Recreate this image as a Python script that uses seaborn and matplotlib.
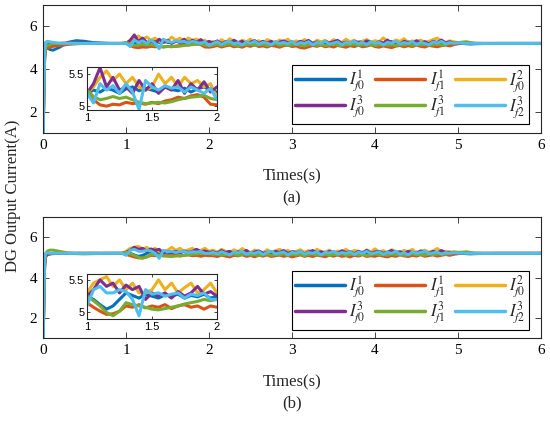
import numpy as np
import pandas as pd
import seaborn as sns
import matplotlib.pyplot as plt
from matplotlib.lines import Line2D

# time grid: start-up, disturbance window, settling
t_start = [0.0, 0.01, 0.02, 0.03, 0.05, 0.08, 0.12, 0.2, 0.3, 0.4, 0.5, 0.6, 0.8, 0.95]
t_mid = list(np.round(np.linspace(1.0, 5.0, 81), 2))
t_end = [5.05, 5.1, 5.15, 5.2, 5.3, 5.5, 6.0]
t = t_start + t_mid + t_end

labels = [r'$I_{f0}^{1}$', r'$I_{f1}^{1}$', r'$I_{f0}^{2}$',
          r'$I_{f0}^{3}$', r'$I_{f1}^{3}$', r'$I_{f2}^{3}$']
colors = ['#0072BD', '#D95319', '#EDB120', '#7E2F8E', '#77AC30', '#4DBEEE']

# ---------------- (a) ----------------
a_f0_1 = ([0.0, 2.8, 4.5, 4.95, 5.0, 4.92, 4.88, 5.02, 5.25, 5.33, 5.3, 5.24, 5.2, 5.2]
          + [5.2, 5.25, 5.22, 5.28, 5.25, 5.2, 5.27, 5.3, 5.24, 5.28, 5.25, 5.22, 5.3, 5.26, 5.24, 5.28, 5.22, 5.27, 5.3, 5.25, 5.22]
          + [5.25, 5.2, 5.28, 5.22, 5.3, 5.24, 5.18, 5.26, 5.22, 5.29,
             5.2, 5.25, 5.3, 5.23, 5.19, 5.27, 5.24, 5.21, 5.28, 5.25,
             5.2, 5.26, 5.3, 5.22, 5.18, 5.25, 5.28, 5.21, 5.24, 5.29,
             5.22, 5.2, 5.27, 5.25, 5.19, 5.26, 5.3, 5.23, 5.2, 5.27,
             5.24, 5.18, 5.26, 5.29, 5.22, 5.25, 5.2, 5.28, 5.23, 5.26,
             5.21, 5.27, 5.24, 5.2, 5.26, 5.22, 5.25, 5.23, 5.21, 5.22]
          + [5.2, 5.18, 5.17, 5.18, 5.19, 5.2, 5.2])
a_f1_1 = ([0.0, 2.8, 4.5, 4.9, 4.98, 5.02, 5.06, 5.1, 5.15, 5.18, 5.2, 5.2, 5.2, 5.2]
          + [5.22, 5.1, 5.02, 5.0, 5.03, 5.02, 5.06, 5.04, 5.05, 5.03, 5.06, 5.04, 5.08, 5.1, 5.14, 5.12, 5.16, 5.18, 5.14, 5.03, 5.02]
          + [5.05, 5.1, 5.03, 5.08, 5.12, 5.04, 5.07, 5.02, 5.1, 5.06,
             5.13, 5.05, 5.08, 5.03, 5.1, 5.07, 5.02, 5.09, 5.12, 5.05,
             5.08, 5.0, 4.98, 5.04, 5.1, 5.06, 5.12, 5.04, 5.08, 5.03,
             5.1, 5.06, 5.02, 5.09, 5.05, 5.11, 5.04, 5.07, 5.13, 5.05,
             5.02, 5.08, 5.04, 5.0, 5.07, 5.1, 5.04, 5.09, 5.05, 5.12,
             5.06, 5.03, 5.1, 5.07, 5.04, 5.09, 5.12, 5.08, 5.14, 5.18]
          + [5.2, 5.22, 5.21, 5.2, 5.2, 5.2, 5.2])
a_f0_2 = ([0.0, 2.8, 4.6, 5.05, 5.15, 5.18, 5.2, 5.2, 5.21, 5.2, 5.2, 5.2, 5.2, 5.2]
          + [5.2, 5.3, 5.45, 5.55, 5.4, 5.5, 5.35, 5.45, 5.3, 5.25, 5.3, 5.5, 5.35, 5.45, 5.3, 5.45, 5.35, 5.4, 5.3, 5.35, 5.12]
          + [5.3, 5.2, 5.38, 5.25, 5.42, 5.3, 5.22, 5.35, 5.28, 5.4,
             5.25, 5.33, 5.2, 5.38, 5.3, 5.24, 5.36, 5.28, 5.4, 5.22,
             5.32, 5.26, 5.38, 5.3, 5.2, 5.35, 5.28, 5.34, 5.22, 5.38,
             5.3, 5.25, 5.4, 5.28, 5.35, 5.22, 5.3, 5.38, 5.26, 5.33,
             5.28, 5.46, 5.3, 5.22, 5.36, 5.3, 5.42, 5.25, 5.32, 5.28,
             5.36, 5.24, 5.3, 5.38, 5.45, 5.3, 5.25, 5.32, 5.28, 5.24]
          + [5.22, 5.2, 5.21, 5.2, 5.2, 5.2, 5.2])
a_f0_3 = ([0.0, 2.8, 4.6, 5.0, 5.12, 5.16, 5.18, 5.2, 5.22, 5.22, 5.21, 5.2, 5.2, 5.2]
          + [5.2, 5.35, 5.6, 5.3, 5.45, 5.25, 5.3, 5.2, 5.4, 5.25, 5.35, 5.2, 5.3, 5.25, 5.4, 5.2, 5.35, 5.25, 5.38, 5.22, 5.3]
          + [5.22, 5.32, 5.18, 5.28, 5.2, 5.35, 5.24, 5.3, 5.17, 5.26,
             5.33, 5.2, 5.28, 5.22, 5.3, 5.16, 5.26, 5.32, 5.22, 5.28,
             5.18, 5.3, 5.24, 5.34, 5.2, 5.27, 5.16, 5.3, 5.22, 5.28,
             5.34, 5.2, 5.26, 5.18, 5.3, 5.24, 5.2, 5.32, 5.25, 5.18,
             5.28, 5.22, 5.36, 5.2, 5.27, 5.17, 5.3, 5.24, 5.2, 5.33,
             5.22, 5.28, 5.18, 5.3, 5.24, 5.36, 5.22, 5.28, 5.2, 5.22]
          + [5.2, 5.21, 5.2, 5.2, 5.2, 5.2, 5.2])
a_f1_3 = ([0.0, 2.8, 4.6, 5.02, 5.1, 5.14, 5.18, 5.2, 5.21, 5.21, 5.2, 5.2, 5.2, 5.2]
          + [5.25, 5.15, 5.1, 5.12, 5.15, 5.12, 5.14, 5.1, 5.06, 5.04, 5.05, 5.06, 5.05, 5.07, 5.1, 5.12, 5.14, 5.15, 5.17, 5.12, 5.1]
          + [5.12, 5.16, 5.1, 5.14, 5.18, 5.12, 5.08, 5.15, 5.12, 5.17,
             5.1, 5.13, 5.16, 5.09, 5.14, 5.18, 5.11, 5.15, 5.1, 5.13,
             5.17, 5.12, 5.08, 5.14, 5.16, 5.11, 5.15, 5.1, 5.13, 5.18,
             5.12, 5.09, 5.15, 5.13, 5.17, 5.1, 5.14, 5.12, 5.16, 5.1,
             5.13, 5.17, 5.11, 5.15, 5.09, 5.14, 5.12, 5.18, 5.1, 5.15,
             5.13, 5.16, 5.11, 5.14, 5.18, 5.12, 5.15, 5.2, 5.22, 5.24]
          + [5.26, 5.28, 5.24, 5.21, 5.2, 5.2, 5.2])
a_f2_3 = ([0.0, 3.0, 4.9, 5.25, 5.3, 5.28, 5.25, 5.21, 5.2, 5.2, 5.2, 5.2, 5.2, 5.2]
          + [5.2, 5.05, 5.35, 5.25, 5.32, 5.2, 5.35, 5.22, 4.95, 5.4, 5.3, 5.25, 5.32, 5.28, 5.3, 5.22, 5.3, 5.25, 5.2, 5.28, 5.1]
          + [5.2, 5.28, 5.15, 5.25, 5.3, 5.18, 5.24, 5.12, 5.27, 5.2,
             5.3, 5.16, 5.25, 5.22, 5.14, 5.28, 5.2, 5.25, 5.18, 5.3,
             5.15, 5.24, 5.2, 5.28, 5.13, 5.25, 5.2, 5.3, 5.17, 5.22,
             5.27, 5.14, 5.25, 5.2, 5.3, 5.18, 5.24, 5.15, 5.28, 5.2,
             5.25, 5.12, 5.26, 5.2, 5.3, 5.17, 5.24, 5.2, 5.28, 5.15,
             5.25, 5.2, 5.14, 5.27, 5.22, 5.3, 5.18, 5.24, 5.2, 5.22]
          + [5.21, 5.2, 5.2, 5.2, 5.2, 5.2, 5.2])

# ---------------- (b) ----------------
b_f0_1 = ([0.0, 2.8, 4.6, 5.05, 5.15, 5.18, 5.2, 5.2, 5.2, 5.2, 5.2, 5.2, 5.2, 5.2]
          + [5.25, 5.2, 5.12, 5.05, 5.1, 5.2, 5.3, 5.26, 5.22, 5.28, 5.25, 5.22, 5.27, 5.25, 5.28, 5.22, 5.26, 5.24, 5.28, 5.22, 5.25]
          + [5.22, 5.27, 5.2, 5.25, 5.3, 5.21, 5.26, 5.19, 5.28, 5.23,
             5.2, 5.27, 5.24, 5.29, 5.21, 5.25, 5.18, 5.27, 5.22, 5.26,
             5.3, 5.21, 5.25, 5.2, 5.28, 5.23, 5.19, 5.26, 5.29, 5.22,
             5.25, 5.2, 5.27, 5.23, 5.3, 5.21, 5.26, 5.19, 5.25, 5.28,
             5.22, 5.26, 5.2, 5.24, 5.29, 5.21, 5.27, 5.23, 5.19, 5.26,
             5.24, 5.28, 5.21, 5.25, 5.22, 5.27, 5.23, 5.24, 5.21, 5.22]
          + [5.2, 5.18, 5.17, 5.18, 5.19, 5.2, 5.2])
b_f1_1 = ([0.0, 2.8, 4.6, 5.0, 5.12, 5.16, 5.18, 5.2, 5.2, 5.2, 5.2, 5.2, 5.2, 5.2]
          + [5.15, 5.08, 5.02, 4.97, 4.98, 5.02, 5.1, 5.08, 5.12, 5.07, 5.1, 5.08, 5.12, 5.06, 5.1, 5.12, 5.08, 5.1, 5.05, 5.1, 5.08]
          + [5.08, 5.04, 5.11, 5.06, 5.02, 5.1, 5.07, 5.13, 5.05, 5.09,
             5.03, 5.1, 5.06, 5.12, 5.04, 5.08, 5.11, 5.05, 5.09, 5.02,
             5.07, 5.12, 5.05, 5.09, 5.04, 5.11, 5.07, 5.03, 5.1, 5.06,
             5.12, 5.05, 5.08, 5.02, 5.1, 5.06, 5.13, 5.04, 5.08, 5.05,
             5.11, 5.06, 5.02, 5.09, 5.05, 5.12, 5.07, 5.04, 5.1, 5.06,
             5.13, 5.05, 5.09, 5.12, 5.06, 5.1, 5.14, 5.1, 5.15, 5.18]
          + [5.2, 5.22, 5.21, 5.2, 5.2, 5.2, 5.2])
b_f0_2 = ([0.0, 2.8, 4.6, 5.05, 5.16, 5.2, 5.2, 5.2, 5.2, 5.2, 5.2, 5.2, 5.2, 5.2]
          + [5.3, 5.45, 5.5, 5.55, 5.4, 5.5, 5.35, 5.45, 5.3, 5.3, 5.35, 5.5, 5.35, 5.45, 5.3, 5.38, 5.45, 5.3, 5.35, 5.45, 5.3]
          + [5.36, 5.25, 5.4, 5.3, 5.22, 5.38, 5.28, 5.44, 5.3, 5.24,
             5.36, 5.3, 5.2, 5.38, 5.26, 5.32, 5.4, 5.27, 5.35, 5.22,
             5.3, 5.38, 5.25, 5.34, 5.2, 5.4, 5.3, 5.26, 5.36, 5.22,
             5.32, 5.28, 5.4, 5.24, 5.35, 5.3, 5.2, 5.37, 5.28, 5.42,
             5.26, 5.34, 5.22, 5.38, 5.3, 5.25, 5.35, 5.28, 5.4, 5.22,
             5.3, 5.36, 5.25, 5.32, 5.44, 5.28, 5.3, 5.25, 5.28, 5.24]
          + [5.22, 5.2, 5.21, 5.2, 5.2, 5.2, 5.2])
b_f0_3 = ([0.0, 2.8, 4.6, 5.05, 5.15, 5.18, 5.2, 5.2, 5.2, 5.2, 5.2, 5.2, 5.2, 5.2]
          + [5.25, 5.35, 5.5, 5.4, 5.45, 5.3, 5.42, 5.35, 5.4, 5.2, 5.3, 5.25, 5.3, 5.22, 5.32, 5.25, 5.3, 5.4, 5.28, 5.32, 5.25]
          + [5.28, 5.2, 5.34, 5.24, 5.3, 5.18, 5.28, 5.22, 5.35, 5.2,
             5.27, 5.32, 5.2, 5.26, 5.18, 5.3, 5.24, 5.34, 5.2, 5.28,
             5.22, 5.3, 5.17, 5.27, 5.34, 5.22, 5.28, 5.19, 5.3, 5.25,
             5.2, 5.33, 5.24, 5.28, 5.18, 5.3, 5.22, 5.35, 5.2, 5.27,
             5.3, 5.2, 5.26, 5.34, 5.22, 5.28, 5.18, 5.3, 5.24, 5.2,
             5.32, 5.26, 5.2, 5.3, 5.22, 5.34, 5.24, 5.26, 5.2, 5.22]
          + [5.2, 5.21, 5.2, 5.2, 5.2, 5.2, 5.2])
b_f1_3 = ([0.0, 2.8, 4.7, 5.15, 5.3, 5.36, 5.36, 5.3, 5.22, 5.18, 5.17, 5.18, 5.2, 5.2]
          + [5.25, 5.18, 5.1, 5.0, 4.95, 5.02, 5.15, 5.12, 5.1, 5.08, 5.05, 5.04, 5.06, 5.08, 5.1, 5.13, 5.15, 5.17, 5.2, 5.18, 5.2]
          + [5.14, 5.18, 5.1, 5.15, 5.12, 5.17, 5.09, 5.14, 5.18, 5.11,
             5.15, 5.08, 5.13, 5.17, 5.1, 5.14, 5.12, 5.18, 5.1, 5.15,
             5.12, 5.16, 5.08, 5.14, 5.18, 5.11, 5.13, 5.16, 5.09, 5.15,
             5.12, 5.18, 5.1, 5.14, 5.17, 5.11, 5.15, 5.09, 5.13, 5.17,
             5.12, 5.15, 5.1, 5.18, 5.13, 5.16, 5.09, 5.14, 5.18, 5.12,
             5.15, 5.1, 5.17, 5.13, 5.16, 5.2, 5.14, 5.22, 5.26, 5.25]
          + [5.26, 5.28, 5.24, 5.21, 5.2, 5.2, 5.2])
b_f2_3 = ([0.0, 3.0, 4.9, 5.2, 5.22, 5.2, 5.2, 5.2, 5.2, 5.2, 5.2, 5.2, 5.2, 5.2]
          + [5.1, 5.35, 5.4, 5.3, 5.3, 5.35, 5.32, 5.2, 4.95, 5.35, 5.28, 5.3, 5.25, 5.28, 5.3, 5.22, 5.28, 5.26, 5.3, 5.2, 5.2]
          + [5.25, 5.16, 5.28, 5.2, 5.12, 5.26, 5.22, 5.3, 5.15, 5.24,
             5.2, 5.28, 5.14, 5.25, 5.3, 5.18, 5.22, 5.27, 5.13, 5.25,
             5.2, 5.3, 5.16, 5.24, 5.2, 5.28, 5.12, 5.25, 5.22, 5.3,
             5.17, 5.24, 5.2, 5.27, 5.14, 5.26, 5.2, 5.3, 5.18, 5.22,
             5.28, 5.15, 5.25, 5.2, 5.3, 5.16, 5.24, 5.12, 5.27, 5.2,
             5.25, 5.3, 5.18, 5.22, 5.27, 5.15, 5.24, 5.2, 5.22, 5.21]
          + [5.21, 5.2, 5.2, 5.2, 5.2, 5.2, 5.2])

sns.set_style('ticks')
plt.rcParams['font.family'] = ['Liberation Serif', 'DejaVu Serif']
plt.rcParams['mathtext.fontset'] = 'stix'
plt.rcParams['axes.edgecolor'] = '#262626'
plt.rcParams['axes.linewidth'] = 0.8


def long_frame(series):
    return pd.DataFrame({
        'time': np.tile(t, len(series)),
        'current': np.concatenate([np.asarray(s, dtype=float) for s in series]),
        'name': np.repeat(labels, len(t)),
    })


def draw(ax, df, lw):
    sns.lineplot(data=df, x='time', y='current', hue='name', hue_order=labels,
                 palette=colors, lw=lw, ax=ax, legend=False, estimator=None, sort=False)
    ax.set_xlabel('')
    ax.set_ylabel('')


def style(ax, size, length):
    ax.tick_params(direction='in', top=True, right=True, labelsize=size,
                   length=length, width=0.6, colors='#262626', labelcolor='black', pad=4)
    for s in ax.spines.values():
        s.set_visible(True)


fig = plt.figure(figsize=(5.5, 4.21), dpi=100)

panels = [
    ([a_f0_1, a_f1_1, a_f0_2, a_f0_3, a_f1_3, a_f2_3],
     [0.0782, 0.6841, 0.9055, 0.304], [0.1582, 0.7387, 0.2364, 0.1021], (4.94, 5.61),
     1 - 176 / 421, 1 - 198 / 421, '(a)'),
    ([b_f0_1, b_f1_1, b_f0_2, b_f0_3, b_f1_3, b_f2_3],
     [0.0782, 0.1971, 0.9055, 0.2874], [0.1582, 0.2423, 0.2364, 0.1069], (4.9, 5.59),
     1 - 382 / 421, 1 - 403 / 421, '(b)'),
]

for series, rect, inrect, inylim, ylab_x, ylab_tag, tag in panels:
    df = long_frame(series)
    ax = fig.add_axes(rect)
    draw(ax, df, 2.1)
    ax.set_xlim(0, 6)
    ax.set_ylim(1, 7)
    ax.set_xticks([0, 1, 2, 3, 4, 5, 6])
    ax.set_yticks([2, 4, 6])
    style(ax, 11, 4)

    handles = [Line2D([], [], color=c, lw=2.5) for c in colors]
    order = [0, 3, 1, 4, 2, 5]
    leg = ax.legend([handles[i] for i in order], [labels[i] for i in order],
                    ncol=3, loc='lower right', bbox_to_anchor=(0.976, 0.07),
                    borderaxespad=0, fontsize=12, handlelength=3.0,
                    handletextpad=0.25, columnspacing=0.6, labelspacing=0.0,
                    borderpad=0.2, fancybox=False, framealpha=1, edgecolor='black')
    leg.get_frame().set_linewidth(0.8)

    ins = fig.add_axes(inrect)
    draw(ins, df, 2.2)
    ins.set_xlim(1, 2)
    ins.set_ylim(*inylim)
    ins.set_xticks([1, 1.5, 2])
    ins.set_xticklabels(['1', '1.5', '2'])
    ins.set_yticks([5, 5.5])
    ins.set_yticklabels(['5', '5.5'])
    style(ins, 8, 2.5)
    ins.tick_params(pad=2)
    for lab in ins.get_xticklabels() + ins.get_yticklabels():
        lab.set_family(['Liberation Sans', 'DejaVu Sans'])
    ins.set_facecolor('white')

    fig.text(0.531, ylab_x, 'Times(s)', ha='center', va='center', fontsize=12)
    fig.text(0.531, ylab_tag, tag, ha='center', va='center', fontsize=12)

fig.text(13 / 550, 1 - 196 / 421, 'DG Output Current(A)', rotation=90,
         ha='center', va='center', fontsize=12)

fig.savefig('out.png', dpi=100)
